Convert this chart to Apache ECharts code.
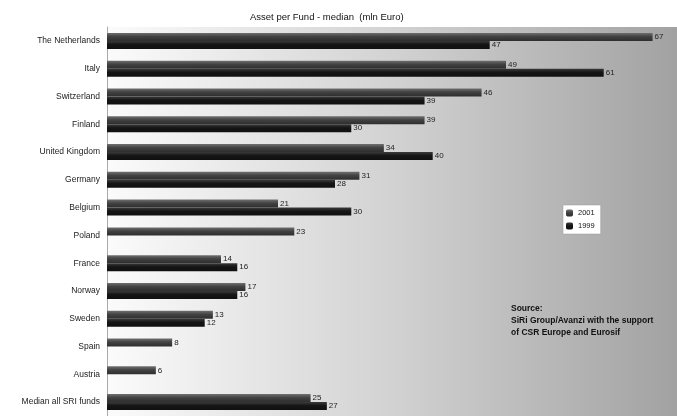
<!DOCTYPE html>
<html><head><meta charset="utf-8">
<script src="https://cdn.jsdelivr.net/npm/echarts@6/dist/echarts.min.js"></script>
<style>html,body{margin:0;padding:0;background:#fff}#c{width:677px;height:416px}</style>
</head><body><div id="c"></div>
<script>
const categories = ["The Netherlands","Italy","Switzerland","Finland","United Kingdom","Germany","Belgium","Poland","France","Norway","Sweden","Spain","Austria","Median all SRI funds"];
const values2001 = [67,49,46,39,34,31,21,23,14,17,13,8,6,25];
const values1999 = [47,61,39,30,40,28,30,null,16,16,12,null,null,27];
const seriesNames = ["2001","1999"];
const axisMax = 70;

const chart = echarts.init(document.getElementById('c'));
const lbl = {show:true, position:'right', distance:2, fontSize:8, color:'#222', fontFamily:'Liberation Sans'};
chart.setOption({
  animation:false,
  title:{text:'Asset per Fund - median  (mln Euro)', left:245, top:7,
    textStyle:{fontSize:9.5, fontWeight:'normal', color:'#111', fontFamily:'Liberation Sans'}},
  legend:{data:seriesNames, orient:'vertical', left:563, top:205, itemWidth:7, itemHeight:7, itemGap:5,
    backgroundColor:'#fff', borderColor:'#999', borderWidth:0.5, padding:[4,6,4,3],
    textStyle:{fontSize:7.5, color:'#111', fontFamily:'Liberation Sans'}},
  grid:{left:107, right:0, top:27, height:392, show:true, borderWidth:0,
    backgroundColor:new echarts.graphic.LinearGradient(0,0,1,0,[{offset:0,color:'#fbfbfb'},{offset:0.5,color:'#d2d2d2'},{offset:1,color:'#a2a2a2'}])},
  xAxis:{type:'value', min:0, max:axisMax, show:false},
  yAxis:{type:'category', data:categories, inverse:true,
    axisLine:{show:true, lineStyle:{color:'#aaa'}}, axisTick:{show:false},
    axisLabel:{fontSize:8.5, color:'#222', margin:7, fontFamily:'Liberation Sans'}},
  graphic:[{type:'text', left:511, top:303, style:{text:'Source:\nSiRi Group/Avanzi with the support\nof CSR Europe and Eurosif', font:'bold 8.5px Liberation Sans', fill:'#111', lineHeight:12}}],
  series:[
    {name:seriesNames[0], type:'bar', data:values2001, barWidth:8, barGap:'0%', label:lbl,
      itemStyle:{color:new echarts.graphic.LinearGradient(0,0,0,1,[{offset:0,color:'#707070'},{offset:0.45,color:'#424242'},{offset:1,color:'#2e2e2e'}])}},
    {name:seriesNames[1], type:'bar', data:values1999, barWidth:8, barGap:'0%', label:lbl,
      itemStyle:{color:new echarts.graphic.LinearGradient(0,0,0,1,[{offset:0,color:'#3a3a3a'},{offset:0.45,color:'#151515'},{offset:1,color:'#101010'}])}}
  ]
});
</script></body></html>
